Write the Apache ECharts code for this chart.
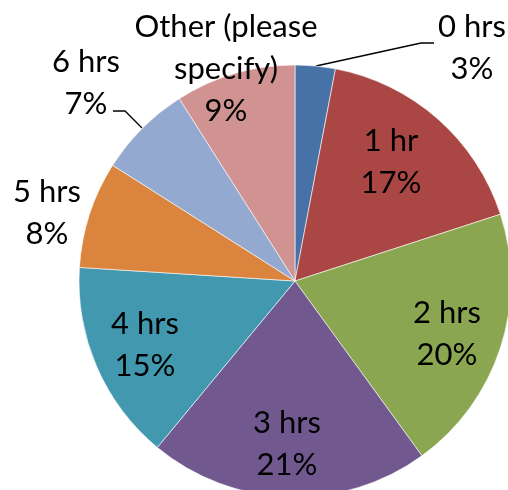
<!DOCTYPE html>
<html>
<head>
<meta charset="utf-8">
<script src="https://cdn.jsdelivr.net/npm/echarts@6/dist/echarts.min.js"></script>
<style>
html,body{margin:0;padding:0;background:#fff;}
#chart{width:508px;height:490px;}
</style>
</head>
<body>
<div id="chart"></div>
<script>
const categories = ['0 hrs', '1 hr', '2 hrs', '3 hrs', '4 hrs', '5 hrs', '6 hrs', 'Other (please\nspecify)'];
const values = [3, 17, 20, 21, 15, 8, 7, 9];
const colors = ['#4672A8', '#AA4644', '#8BA650', '#71598F', '#4198AF', '#DB843D', '#93A9CF', '#D09392'];

// label placement (layout only)
const labelPos = [[472, 48], [391, 162], [447, 334], [287, 444], [145, 345], [47, 213], [86, 83], [226, 69]];
const leaderLines = {
  0: [[316, 66], [421, 43], [434, 43]],
  6: [[142, 128], [125, 111], [113, 111]]
};

const chart = echarts.init(document.getElementById('chart'), null, {renderer: 'canvas'});
const data = categories.map((c, i) => ({
  name: c,
  value: values[i],
  itemStyle: {color: colors[i]},
  labelLine: {show: !!leaderLines[i]}
}));

chart.setOption({
  animation: false,
  series: [{
    type: 'pie',
    center: [295, 281],
    radius: 216,
    startAngle: 90,
    clockwise: true,
    avoidLabelOverlap: false,
    data: data,
    itemStyle: {borderColor: '#ffffff', borderWidth: 0.6},
    label: {
      show: true,
      position: 'outside',
      formatter: '{b}\n{c}%',
      color: '#000',
      fontFamily: 'Lato',
      fontSize: 31,
      lineHeight: 42,
      align: 'center'
    },
    labelLine: {
      lineStyle: {color: '#000', width: 1.3}
    },
    labelLayout: function (params) {
      const i = params.dataIndex;
      const p = labelPos[i];
      const out = {x: p[0], y: p[1], align: 'center', verticalAlign: 'middle'};
      if (leaderLines[i]) out.labelLinePoints = leaderLines[i];
      return out;
    }
  }]
});
</script>
</body>
</html>
